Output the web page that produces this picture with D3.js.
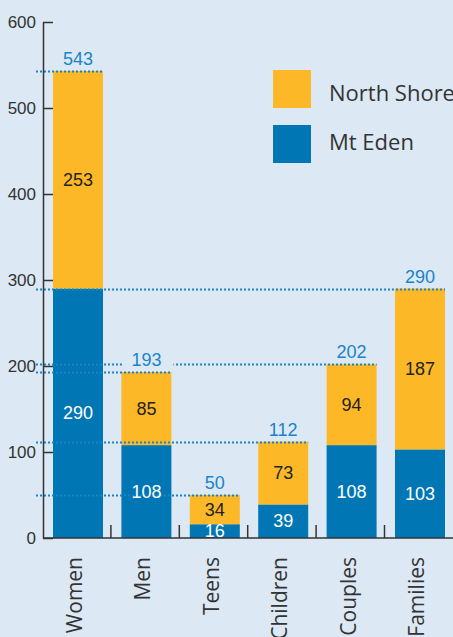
<!DOCTYPE html>
<html>
<head>
<meta charset="utf-8">
<script src="https://cdn.jsdelivr.net/npm/d3@7"></script>
<style>
  body { margin: 0; background: #dce9f5; }
  svg { display: block; }
</style>
</head>
<body>
<div class="chart"></div>
<script>
var width = 453,
    height = 637;

var categories = ["Women", "Men", "Teens", "Children", "Couples", "Families"];
var mtEden = [290, 108, 16, 39, 108, 103];
var northShore = [253, 85, 34, 73, 94, 187];
var totals = [543, 193, 50, 112, 202, 290];
var yTicks = [0, 100, 200, 300, 400, 500, 600];
var seriesNames = ["North Shore", "Mt Eden"];

var orange = "#fdb827",
    blue = "#0077b4",
    lineBlue = "#1a84c6",
    bg = "#dce9f5";

var x0 = 43, y0 = 538;
var step = 68.4, bw = 50, barOffset = 10;

// band scale: each band starts at the axis, bar sits 10px in
var x = d3.scaleBand()
  .domain(categories)
  .range([x0, x0 + 6 * step]);

function barX(d) { return x(d) + barOffset; }

var y = d3.scaleLinear()
  .domain([0, 600])
  .range([y0, 22]);

var svg = d3.select(".chart")
  .append("svg")
  .attr("width", width)
  .attr("height", height)
  .style("background", bg);

var rows = categories.map(function(c, i) {
  return { cat: c, mt: mtEden[i], ns: northShore[i], total: totals[i] };
});

// stacked bars
svg.selectAll("rect.mt")
  .data(rows)
  .enter()
  .append("rect")
  .attr("class", "mt")
  .attr("x", function(d) { return barX(d.cat); })
  .attr("width", bw)
  .attr("y", function(d) { return y(d.mt); })
  .attr("height", function(d) { return y(0) - y(d.mt); })
  .attr("fill", blue);

svg.selectAll("rect.ns")
  .data(rows)
  .enter()
  .append("rect")
  .attr("class", "ns")
  .attr("x", function(d) { return barX(d.cat); })
  .attr("width", bw)
  .attr("y", function(d) { return y(d.mt + d.ns); })
  .attr("height", function(d) { return y(d.mt) - y(d.mt + d.ns); })
  .attr("fill", orange);

// dotted total lines
svg.selectAll("line.total")
  .data(rows)
  .enter()
  .append("line")
  .attr("x1", 36)
  .attr("x2", function(d) { return barX(d.cat) + bw; })
  .attr("y1", function(d) { return Math.round(y(d.total)) + 0.5; })
  .attr("y2", function(d) { return Math.round(y(d.total)) + 0.5; })
  .attr("stroke", lineBlue)
  .attr("stroke-width", 2)
  .attr("stroke-dasharray", "2,2");

// hide lines behind the total labels
svg.selectAll("rect.lblbg")
  .data(rows)
  .enter()
  .append("rect")
  .attr("x", function(d) { return barX(d.cat) + 2; })
  .attr("width", bw)
  .attr("y", function(d) { return y(d.total) - 21; })
  .attr("height", 18)
  .attr("fill", bg);

var labelFont = "Liberation Sans, Arial, sans-serif";

svg.selectAll("text.total")
  .data(rows)
  .enter()
  .append("text")
  .attr("x", function(d) { return barX(d.cat) + bw / 2; })
  .attr("y", function(d) { return y(d.total) - 6; })
  .attr("text-anchor", "middle")
  .attr("font-family", labelFont)
  .attr("font-size", "18px")
  .attr("fill", lineBlue)
  .text(function(d) { return d.total; });

// segment value labels
svg.selectAll("text.mt")
  .data(rows)
  .enter()
  .append("text")
  .attr("x", function(d) { return barX(d.cat) + bw / 2; })
  .attr("y", function(d) { return d.mt < 20 ? y(0) - 1 : (y(0) + y(d.mt)) / 2 + 6; })
  .attr("text-anchor", "middle")
  .attr("font-family", labelFont)
  .attr("font-size", "18px")
  .attr("fill", "#fff")
  .text(function(d) { return d.mt; });

svg.selectAll("text.ns")
  .data(rows)
  .enter()
  .append("text")
  .attr("x", function(d) { return barX(d.cat) + bw / 2; })
  .attr("y", function(d) { return (y(d.mt) + y(d.mt + d.ns)) / 2 + 6; })
  .attr("text-anchor", "middle")
  .attr("font-family", labelFont)
  .attr("font-size", "18px")
  .attr("fill", "#222")
  .text(function(d) { return d.ns; });

// y axis
var yAxis = d3.axisLeft(y)
  .tickValues(yTicks)
  .tickSizeInner(-10)
  .tickSizeOuter(0)
  .tickPadding(7);

var gy = svg.append("g")
  .attr("transform", "translate(" + x0 + ",0)")
  .call(yAxis);
gy.selectAll("path, line").attr("stroke", "#333").attr("stroke-width", 1.5);
gy.selectAll("text")
  .attr("font-family", labelFont)
  .attr("font-size", "17px")
  .attr("fill", "#333")
  .attr("x", -7);

// x axis baseline and separator ticks
svg.append("line")
  .attr("x1", x0).attr("x2", width)
  .attr("y1", y0).attr("y2", y0)
  .attr("stroke", "#333").attr("stroke-width", 1.5);

svg.selectAll("line.sep")
  .data(categories.slice(1))
  .enter()
  .append("line")
  .attr("x1", function(d) { return x(d) - 0.5; })
  .attr("x2", function(d) { return x(d) - 0.5; })
  .attr("y1", y0)
  .attr("y2", y0 - 13)
  .attr("stroke", "#333").attr("stroke-width", 1.5);

// category labels
svg.selectAll("text.cat")
  .data(rows)
  .enter()
  .append("text")
  .attr("transform", function(d) {
    return "translate(" + (barX(d.cat) + bw / 2 + 4) + ",557) rotate(-90)";
  })
  .attr("text-anchor", "end")
  .attr("font-family", "Open Sans, sans-serif")
  .attr("font-size", "21px")
  .attr("fill", "#333")
  .text(function(d) { return d.cat; });

// legend
var legend = svg.selectAll(".legend")
  .data(seriesNames)
  .enter()
  .append("g")
  .attr("class", "legend")
  .attr("transform", function(d, i) {
    return "translate(273," + (70 + i * 55) + ")";
  });

legend.append("rect")
  .attr("width", 38)
  .attr("height", 38)
  .attr("fill", function(d, i) { return i === 0 ? orange : blue; });

legend.append("text")
  .attr("x", 56)
  .attr("y", function(d, i) { return i === 0 ? 31 : 25; })
  .attr("font-family", "Open Sans, sans-serif")
  .attr("font-size", "22px")
  .attr("fill", "#333")
  .text(function(d) { return d; });
</script>
</body>
</html>
